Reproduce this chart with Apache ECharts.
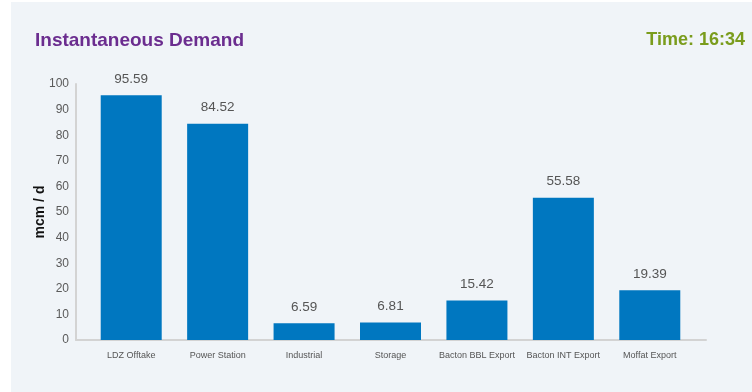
<!DOCTYPE html>
<html>
<head>
<meta charset="utf-8">
<script src="https://cdn.jsdelivr.net/npm/echarts@6/dist/echarts.min.js"></script>
<style>
  html, body { margin: 0; padding: 0; background: #ffffff; }
  #panel { position: absolute; left: 11px; top: 2px; right: 0; bottom: 0; background: #f0f4f8; }
  #chart { position: absolute; left: 0; top: 0; width: 752px; height: 392px; }
</style>
</head>
<body>
<div id="panel"></div>
<div id="chart"></div>
<script>
// Demand by offtake type, million cubic metres per day
const categories = ['LDZ Offtake', 'Power Station', 'Industrial', 'Storage',
                    'Bacton BBL Export', 'Bacton INT Export', 'Moffat Export'];
const demand = [95.59, 84.52, 6.59, 6.81, 15.42, 55.58, 19.39];
const titleText = 'Instantaneous Demand';
const timeText = 'Time: 16:34';
const unitLabel = 'mcm / d';

const chart = echarts.init(document.getElementById('chart'), null, { renderer: 'canvas' });
const font = 'Liberation Sans, Arial, sans-serif';

chart.setOption({
  backgroundColor: 'transparent',
  animation: false,
  title: [
    { text: titleText, left: 30, top: 26,
      textStyle: { fontFamily: font, fontSize: 19, fontWeight: 'bold', color: '#6b2d8f' } },
    { text: timeText, right: 2, top: 26,
      textStyle: { fontFamily: font, fontSize: 18, fontWeight: 'bold', color: '#7a9c1c' } }
  ],
  grid: [
    { left: 88, right: 59, top: 84, bottom: 52 },
    { left: 76, right: 46, top: 84, bottom: 52 }
  ],
  xAxis: [
    { type: 'category', gridIndex: 0, data: categories,
      axisLine: { show: false }, axisTick: { show: false },
      axisLabel: { fontFamily: font, fontSize: 9, color: '#555', margin: 11, interval: 0 } },
    { type: 'value', gridIndex: 1, min: 0, max: 1,
      axisLine: { show: true, lineStyle: { color: '#d3d3d3', width: 2 } },
      axisTick: { show: false }, axisLabel: { show: false }, splitLine: { show: false } }
  ],
  yAxis: [
    { type: 'value', gridIndex: 0, min: 0, max: 100, interval: 10,
      name: unitLabel, nameLocation: 'middle', nameGap: 41, nameRotate: 90,
      nameMoveOverlap: false,
      nameTextStyle: { fontFamily: font, fontSize: 14, fontWeight: 'bold', color: '#111' },
      axisLine: { show: false }, axisTick: { show: false },
      axisLabel: { fontFamily: font, fontSize: 12, color: '#5a5a5a', margin: 19 },
      splitLine: { show: false } },
    { type: 'value', gridIndex: 1, min: 0, max: 1,
      axisLine: { show: true, lineStyle: { color: '#d3d3d3', width: 2 } },
      axisTick: { show: false }, axisLabel: { show: false }, splitLine: { show: false } }
  ],
  series: [{
    type: 'bar',
    xAxisIndex: 0, yAxisIndex: 0,
    data: demand,
    barWidth: 61,
    itemStyle: { color: '#0077c0' },
    label: { show: true, position: 'top', distance: 9,
      fontFamily: font, fontSize: 13.5, color: '#555',
      formatter: p => p.value.toFixed(2) }
  }]
});
</script>
</body>
</html>
